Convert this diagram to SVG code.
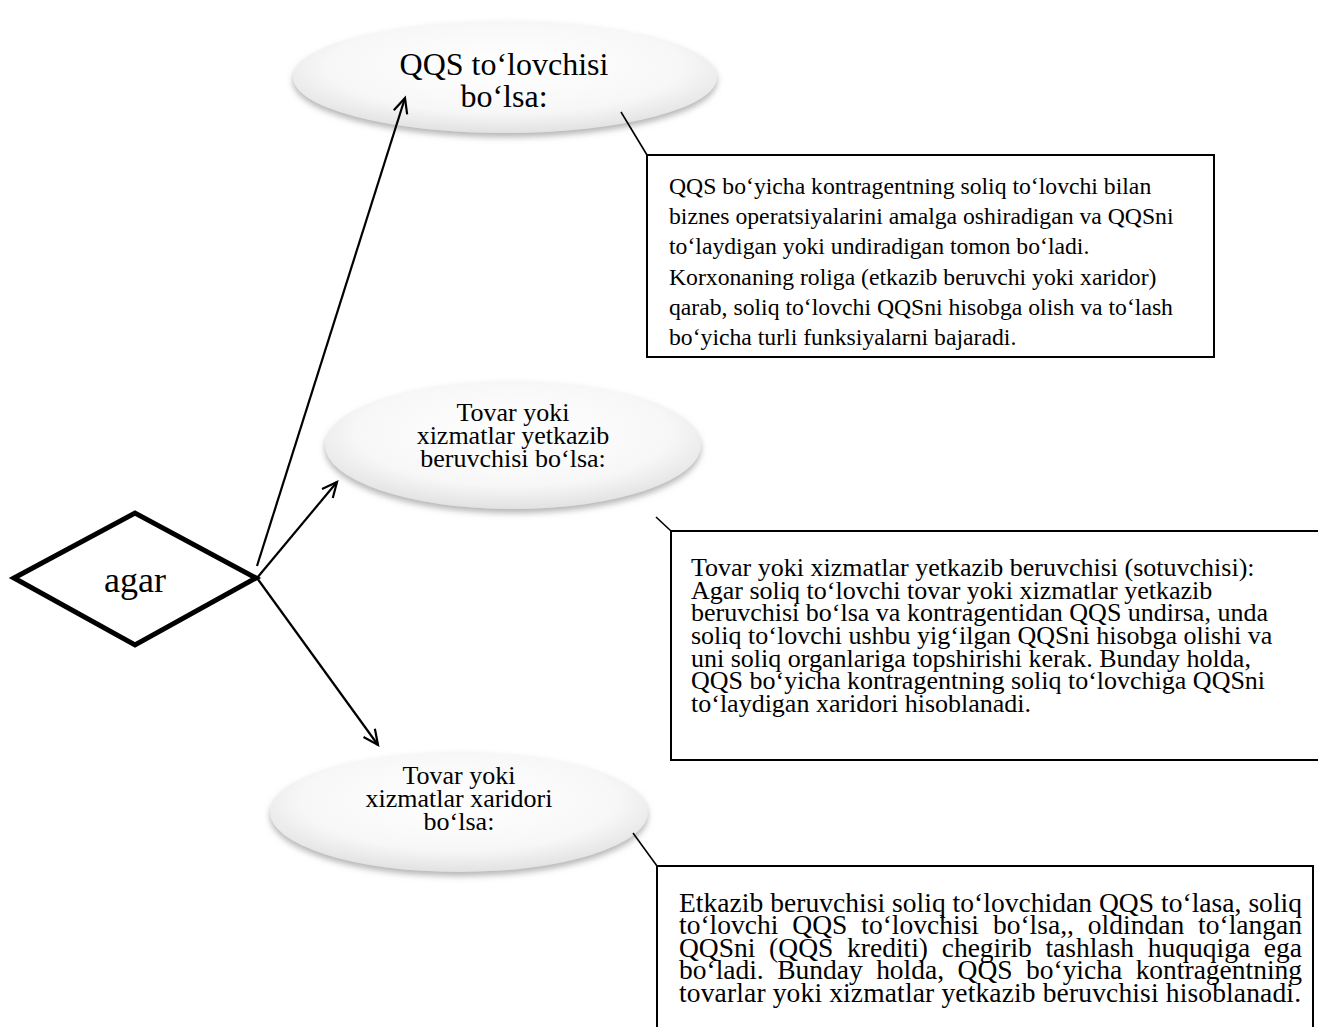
<svg xmlns="http://www.w3.org/2000/svg" width="1318" height="1027" viewBox="0 0 1318 1027">
<defs>
<style>
text{font-family:"Liberation Serif","Times New Roman",serif;fill:#000}
.el{fill:url(#gloss);filter:url(#sh)}
.et{font-size:32px;text-anchor:middle}
.et2{font-size:26px;text-anchor:middle}
.box{fill:#fff;stroke:#000;stroke-width:2}
.bt1{font-size:23.7px}
.bt{font-size:26px}
.bt3{font-size:27.5px}
.arr{stroke:#000;stroke-width:2.2;fill:none;marker-end:url(#ah)}
.cl{stroke:#000;stroke-width:1.6;fill:none}
</style>
<radialGradient id="gloss" cx="0.5" cy="0.4" r="0.6">
<stop offset="0" stop-color="#ffffff"/>
<stop offset="0.7" stop-color="#f7f7f7"/>
<stop offset="1" stop-color="#e2e2e2"/>
</radialGradient>
<filter id="sh" x="-10%" y="-20%" width="120%" height="150%">
<feDropShadow dx="0" dy="4" stdDeviation="3" flood-color="#777" flood-opacity="0.55"/>
</filter>
<marker id="ah" markerUnits="userSpaceOnUse" markerWidth="20" markerHeight="20" refX="16" refY="8" orient="auto" viewBox="0 0 20 16">
<path d="M1,1 L16,8 L1,15" fill="none" stroke="#000" stroke-width="2.2"/>
</marker>
</defs>

<g id="decision">
<polygon points="14,578 135,513 256,578 135,645" fill="#fff" stroke="#000" stroke-width="5" stroke-linejoin="miter"/>
<text x="135" y="592" font-size="36" text-anchor="middle">agar</text>
</g>

<g id="node-qqs">
<ellipse class="el" cx="505" cy="77" rx="212" ry="56"/>
<text class="et" x="504" y="75">QQS to‘lovchisi</text>
<text class="et" x="504" y="107">bo‘lsa:</text>
</g>

<g id="node-yetkazib">
<ellipse class="el" cx="513" cy="445" rx="188" ry="64"/>
<text class="et2" x="513" y="421">Tovar yoki</text>
<text class="et2" x="513" y="444">xizmatlar yetkazib</text>
<text class="et2" x="513" y="467">beruvchisi bo‘lsa:</text>
</g>

<g id="node-xaridor">
<ellipse class="el" cx="459" cy="812" rx="189" ry="60"/>
<text class="et2" x="459" y="784">Tovar yoki</text>
<text class="et2" x="459" y="807">xizmatlar xaridori</text>
<text class="et2" x="459" y="830">bo‘lsa:</text>
</g>

<g id="box-qqs">
<rect class="box" x="647" y="155" width="567" height="202"/>
<text class="bt1" x="669" y="194">QQS bo‘yicha kontragentning soliq to‘lovchi bilan</text>
<text class="bt1" x="669" y="224">biznes operatsiyalarini amalga oshiradigan va QQSni</text>
<text class="bt1" x="669" y="254">to‘laydigan yoki undiradigan tomon bo‘ladi.</text>
<text class="bt1" x="669" y="285">Korxonaning roliga (etkazib beruvchi yoki xaridor)</text>
<text class="bt1" x="669" y="315">qarab, soliq to‘lovchi QQSni hisobga olish va to‘lash</text>
<text class="bt1" x="669" y="345">bo‘yicha turli funksiyalarni bajaradi.</text>
</g>

<g id="box-yetkazib">
<rect class="box" x="671" y="531" width="660" height="229"/>
<text class="bt" x="691" y="576">Tovar yoki xizmatlar yetkazib beruvchisi (sotuvchisi):</text>
<text class="bt" x="691" y="599">Agar soliq to‘lovchi tovar yoki xizmatlar yetkazib</text>
<text class="bt" x="691" y="621">beruvchisi bo‘lsa va kontragentidan QQS undirsa, unda</text>
<text class="bt" x="691" y="644">soliq to‘lovchi ushbu yig‘ilgan QQSni hisobga olishi va</text>
<text class="bt" x="691" y="667">uni soliq organlariga topshirishi kerak. Bunday holda,</text>
<text class="bt" x="691" y="689">QQS bo‘yicha kontragentning soliq to‘lovchiga QQSni</text>
<text class="bt" x="691" y="712">to‘laydigan xaridori hisoblanadi.</text>
</g>

<g id="box-xaridor">
<rect class="box" x="657" y="866" width="656" height="200"/>
<text class="bt3" x="679" y="912" textLength="623" lengthAdjust="spacing">Etkazib beruvchisi soliq to‘lovchidan QQS to‘lasa, soliq</text>
<text class="bt3" x="679" y="934" word-spacing="7" textLength="623" lengthAdjust="spacing">to‘lovchi QQS to‘lovchisi bo‘lsa,, oldindan to‘langan</text>
<text class="bt3" x="679" y="957" word-spacing="6.8" textLength="623" lengthAdjust="spacing">QQSni (QQS krediti) chegirib tashlash huquqiga ega</text>
<text class="bt3" x="679" y="979" word-spacing="6.6" textLength="623" lengthAdjust="spacing">bo‘ladi. Bunday holda, QQS bo‘yicha kontragentning</text>
<text class="bt3" x="679" y="1002" textLength="622" lengthAdjust="spacing">tovarlar yoki xizmatlar yetkazib beruvchisi hisoblanadi.</text>
</g>

<g id="connectors">
<path class="arr" d="M257,566 L405,98"/>
<path class="arr" d="M257,578 L337,482"/>
<path class="arr" d="M257,578 L378,745"/>
<path class="cl" d="M621,112 L647,155"/>
<path class="cl" d="M656,517 L671,531"/>
<path class="cl" d="M633,833 L657,866"/>
</g>
</svg>
